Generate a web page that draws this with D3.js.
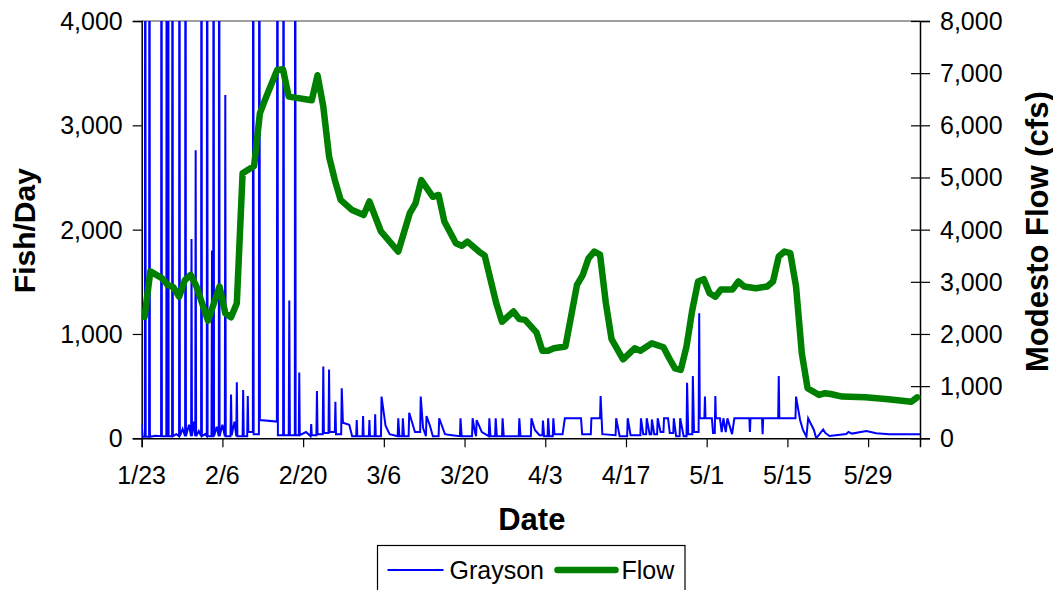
<!DOCTYPE html>
<html>
<head>
<meta charset="utf-8">
<script src="https://cdn.jsdelivr.net/npm/d3@7"></script>
<style>
  body { margin: 0; background: #fff; }
  svg { font-family: "Liberation Sans", Arial, sans-serif; }
  .axis-title { font-weight: bold; fill: #000; }
</style>
</head>
<body>
<div id="viz"></div>
<script>
// Tick labels for the date axis (every two weeks)
const dateTicks = ["1/23","2/6","2/20","3/6","3/20","4/3","4/17","5/1","5/15","5/29"];
const fishTicks = [0, 1000, 2000, 3000, 4000];
const flowTicks = [0, 1000, 2000, 3000, 4000, 5000, 6000, 7000, 8000];

// Modesto flow (cfs), daily
const flowDates = ["1/23","1/24","1/26","1/27","1/28","1/29","1/30","1/31","2/1","2/3",
  "2/5","2/6","2/7","2/8","2/9","2/11","2/12","2/13","2/15","2/16",
  "2/17","2/21","2/22","2/23","2/24","2/25","2/26","2/28","3/2","3/3",
  "3/5","3/8","3/10","3/11","3/12","3/14","3/15","3/16","3/18","3/19",
  "3/20","3/22","3/23","3/25","3/26","3/28","3/29","3/30","4/1","4/2",
  "4/3","4/4","4/6","4/8","4/9","4/10","4/11","4/12","4/13","4/14",
  "4/16","4/18","4/19","4/21","4/23","4/24","4/25","4/26","4/27","4/28",
  "4/29","4/30","5/1","5/2","5/3","5/5","5/6","5/7","5/9","5/11",
  "5/12","5/13","5/14","5/15","5/16","5/17","5/18","5/20","5/21","5/22",
  "5/24","5/28","6/1","6/5","6/6"];
const flowCfs = [2330,3200,3070,2940,2895,2715,3035,3130,2910,2255,
  2910,2395,2320,2590,5080,5220,6230,6520,7060,7075,
  6550,6480,6960,6360,5400,4950,4570,4375,4280,4540,
  3965,3580,4315,4505,4950,4630,4665,4155,3740,3690,
  3770,3580,3500,2590,2235,2430,2285,2270,2025,1680,
  1680,1725,1760,2940,3130,3450,3580,3520,2600,1900,
  1515,1725,1680,1820,1745,1535,1340,1310,1760,2460,
  3005,3050,2780,2715,2855,2855,3005,2910,2875,2910,
  3005,3485,3580,3550,2910,1630,960,830,865,850,
  800,785,750,700,785];

// Grayson catch (fish/day): [days after 1/23, fish]
const graysonPoints = [
  [0.0,140],[0.15,15],[0.55,15],[0.62,9000],[0.69,15],[1.28,15],[1.35,9000],[1.42,15],
  [2.4,25],[3.36,20],[3.43,9000],[3.5,20],[4.27,20],[4.34,9000],[4.41,20],[4.53,20],
  [4.6,9000],[4.67,20],[5.27,20],[5.34,9000],[5.41,20],[6.0,40],[6.48,20],[6.55,9000],
  [6.62,20],[7.1,90],[7.53,20],[7.6,9000],[7.67,20],[8.2,130],[8.57,20],[8.64,1910],
  [8.72,20],[9.0,160],[9.29,20],[9.36,2760],[9.44,20],[9.9,70],[10.3,20],[10.37,9000],
  [10.44,20],[11.0,40],[11.29,20],[11.36,9000],[11.43,20],[12.1,20],[12.2,1800],[12.3,20],
  [12.4,20],[12.47,9000],[12.54,20],[13.0,110],[13.37,20],[13.44,9000],[13.51,20],[14.0,130],
  [14.42,20],[14.5,3290],[14.58,20],[15.4,20],[15.5,420],[15.6,30],[16.1,160],[16.4,20],
  [16.5,537],[16.6,20],[17.5,20],[17.6,463],[17.7,20],[18.3,20],[18.4,405],[18.5,60],
  [19.28,60],[19.35,9000],[19.42,40],[20.33,40],[20.4,9000],[20.5,175],[23.45,160],[23.55,9000],
  [23.62,30],[24.53,30],[24.6,9000],[24.67,30],[25.5,30],[25.6,1320],[25.7,30],[26.56,30],
  [26.63,9000],[26.7,30],[27.25,30],[27.33,630],[27.42,30],[28.5,60],[29.3,20],[29.4,137],
  [29.5,30],[30.3,30],[30.4,453],[30.5,40],[31.4,40],[31.5,687],[31.6,50],[32.4,50],
  [32.5,660],[32.6,60],[33.5,60],[33.6,350],[33.7,40],[34.6,40],[34.7,480],[34.9,150],
  [36.0,130],[36.5,20],
  [37.2,20],[37.3,175],[37.4,20],[38.3,20],[38.4,213],[38.5,20],[39.4,20],[39.5,175],
  [39.6,20],[40.4,20],[40.5,230],[40.6,20],[41.5,20],[41.6,400],[42.3,120],[43.0,40],
  [44.4,20],[44.5,192],[44.7,20],[45.2,20],[45.3,192],[45.5,20],[46.3,20],[46.4,245],
  [47.4,60],[48.3,60],[48.4,400],[48.8,100],[49.3,20],[49.4,213],[50.0,120],[50.5,20],
  [51.5,20],[51.6,192],[52.6,40],[53.8,30],[55.2,20],[55.3,192],[55.5,20],[57.3,20],
  [57.4,192],[57.8,60],[58.0,20],[58.1,175],[59.0,60],[60.2,20],[60.3,192],[60.5,20],
  [61.3,20],[61.4,192],[61.6,20],[62.5,20],[62.6,192],[62.8,20],[65.4,20],[65.5,192],
  [65.7,20],[67.5,20],[67.6,192],[68.2,80],[69.0,30],[69.5,30],[69.6,170],[69.8,20],
  [70.4,20],[70.5,192],[70.7,20],[71.3,20],[71.4,192],[71.6,40],[73.0,40],[73.4,192],
  [76.2,192],[76.4,40],[77.9,40],[78.0,192],[79.5,192],[79.6,405],[79.9,40],[82.2,30],
  [82.3,192],[82.9,20],[84.2,20],[84.3,192],[84.8,30],[86.5,30],[86.6,192],[87.0,40],
  [87.5,40],[87.6,192],[88.1,40],[88.4,40],[88.5,180],[88.9,40],[89.4,40],[89.5,192],
  [90.0,60],[90.5,60],[90.6,192],[91.3,192],[91.6,50],[92.2,50],[92.3,192],[92.7,20],
  [93.3,20],[93.4,192],[94.0,20],[94.5,20],[94.6,533],[94.8,40],[95.5,40],[95.6,597],
  [95.8,60],[96.6,60],[96.7,1198],[96.8,192],[97.6,192],[97.7,400],[97.8,192],[98.9,192],
  [99.1,50],[99.4,50],[99.5,405],[99.6,192],[100.3,192],[100.6,60],[100.9,192],[101.3,60],
  [101.6,192],[102.4,40],[102.8,192],[105.4,192],[105.5,60],[105.6,192],[107.6,192],[107.7,40],
  [107.8,192],[110.4,192],[110.5,597],[110.6,192],[113.4,192],[113.5,400],[113.9,270],[114.2,175],
  [114.7,80],[115.3,15],[115.6,192],[116.6,80],[117.0,0],[118.2,85],[118.6,50],[119.3,22],
  [122.2,41],[122.6,60],[123.2,45],[125.7,70],[127.4,48],[129.7,38],[135.0,38]
];

// Chart geometry
const width = 1053;
const height = 590;
const margin = {top: 21, bottom: 151.7, right: 133, left: 141.7};
const innerWidth = width - margin.left - margin.right;
const innerHeight = height - margin.top - margin.bottom;
const year = 2007;

const parseDay = d3.utcParse("%m/%d/%Y");
const toDate = s => parseDay(s + "/" + year);
const startDate = toDate("1/23");
const endDate = toDate("6/7");
const dayMs = 864e5;

const svg = d3.select("#viz").append("svg")
  .attr("width", width)
  .attr("height", height);

svg.append("rect").attr("width", width).attr("height", height).attr("fill", "#fff");

// Scales (in page pixels)
const xScale = d3.scaleUtc().domain([startDate, endDate])
  .range([margin.left, margin.left + innerWidth]);
const yFish = d3.scaleLinear().domain([0, 4000])
  .range([margin.top + innerHeight, margin.top]);
const yFlow = d3.scaleLinear().domain([0, 8000])
  .range([margin.top + innerHeight, margin.top]);

svg.append("defs").append("clipPath").attr("id", "plot-clip")
  .append("rect")
  .attr("x", margin.left).attr("y", margin.top)
  .attr("width", innerWidth).attr("height", innerHeight);

// Plot area border (top edge grey)
svg.append("line")
  .attr("x1", margin.left).attr("x2", margin.left + innerWidth)
  .attr("y1", margin.top).attr("y2", margin.top)
  .attr("stroke", "#808080").attr("stroke-width", 1.5);

// Axes: lines and ticks from d3, labels added as plain text
const fmt = d3.format(",");

const xAxisG = svg.append("g")
  .attr("transform", "translate(0," + (margin.top + innerHeight) + ")")
  .call(d3.axisBottom(xScale)
    .tickValues(dateTicks.map(toDate))
    .tickFormat("")
    .tickSizeOuter(0)
    .tickSize(9));

const yAxisG = svg.append("g")
  .attr("transform", "translate(" + margin.left + ",0)")
  .call(d3.axisLeft(yFish)
    .tickValues(fishTicks)
    .tickFormat("")
    .tickSizeOuter(0)
    .tickSize(9));

const y2AxisG = svg.append("g")
  .attr("transform", "translate(" + (margin.left + innerWidth) + ",0)")
  .call(d3.axisRight(yFlow)
    .tickValues(flowTicks)
    .tickFormat("")
    .tickSizeOuter(0)
    .tickSize(10));
y2AxisG.selectAll(".tick line").attr("x1", -9);

[xAxisG, yAxisG, y2AxisG].forEach(a => {
  a.select(".domain").attr("stroke", "#000").attr("stroke-width", 1.5);
  a.selectAll(".tick line").attr("stroke", "#000").attr("stroke-width", 1.2);
  a.selectAll(".tick text").remove();
});

svg.selectAll(".date-label")
  .data(dateTicks)
  .join("text")
  .attr("class", "date-label")
  .attr("font-size", 25)
  .attr("text-anchor", "middle")
  .attr("x", d => xScale(toDate(d)))
  .attr("y", margin.top + innerHeight + 46)
  .text(d => d);

svg.selectAll(".fish-label")
  .data(fishTicks)
  .join("text")
  .attr("class", "fish-label")
  .attr("font-size", 25)
  .attr("text-anchor", "end")
  .attr("x", margin.left - 19)
  .attr("y", d => yFish(d) + 9)
  .text(fmt);

svg.selectAll(".flow-label")
  .data(flowTicks)
  .join("text")
  .attr("class", "flow-label")
  .attr("font-size", 25)
  .attr("text-anchor", "start")
  .attr("x", margin.left + innerWidth + 20)
  .attr("y", d => yFlow(d) + 9)
  .text(fmt);

// Lines
const plot = svg.append("g").attr("clip-path", "url(#plot-clip)");

const graysonLine = d3.line()
  .x(d => xScale(new Date(startDate.getTime() + d[0] * dayMs)))
  .y(d => yFish(d[1]));

plot.append("path")
  .attr("d", graysonLine(graysonPoints))
  .attr("fill", "none")
  .attr("stroke", "#0000ff")
  .attr("stroke-width", 2)
  .attr("stroke-linejoin", "miter");

const flowData = flowDates.map((s, i) => ({date: toDate(s), cfs: flowCfs[i]}));
const flowLine = d3.line()
  .x(d => xScale(new Date(d.date.getTime() + dayMs / 2)))
  .y(d => yFlow(d.cfs));

svg.append("path")
  .attr("d", flowLine(flowData))
  .attr("fill", "none")
  .attr("stroke", "#008000")
  .attr("stroke-width", 6.5)
  .attr("stroke-linejoin", "round")
  .attr("stroke-linecap", "round");

// Axis titles
svg.append("text")
  .attr("class", "axis-title")
  .attr("font-size", 30)
  .attr("transform", "translate(35," + (margin.top + innerHeight / 2 + 1) + ") rotate(-90)")
  .attr("text-anchor", "middle")
  .text("Fish/Day");

svg.append("text")
  .attr("class", "axis-title")
  .attr("font-size", 31)
  .attr("transform", "translate(1048," + (margin.top + innerHeight / 2 + 2) + ") rotate(-90)")
  .attr("text-anchor", "middle")
  .text("Modesto Flow (cfs)");

svg.append("text")
  .attr("class", "axis-title")
  .attr("font-size", 31)
  .attr("x", margin.left + innerWidth / 2 + 1)
  .attr("y", 530)
  .attr("text-anchor", "middle")
  .text("Date");

// Legend
const legend = svg.append("g").attr("transform", "translate(377.5,545.5)");
legend.append("rect")
  .attr("width", 307.5).attr("height", 60)
  .attr("fill", "#fff").attr("stroke", "#000").attr("stroke-width", 1.2);
legend.append("line")
  .attr("x1", 10).attr("x2", 66).attr("y1", 24.5).attr("y2", 24.5)
  .attr("stroke", "#0000ff").attr("stroke-width", 2);
legend.append("text")
  .attr("x", 72).attr("y", 33).attr("font-size", 25)
  .text("Grayson");
legend.append("line")
  .attr("x1", 180).attr("x2", 238).attr("y1", 24.5).attr("y2", 24.5)
  .attr("stroke", "#008000").attr("stroke-width", 6.5).attr("stroke-linecap", "round");
legend.append("text")
  .attr("x", 244).attr("y", 33).attr("font-size", 25)
  .text("Flow");
</script>
</body>
</html>
